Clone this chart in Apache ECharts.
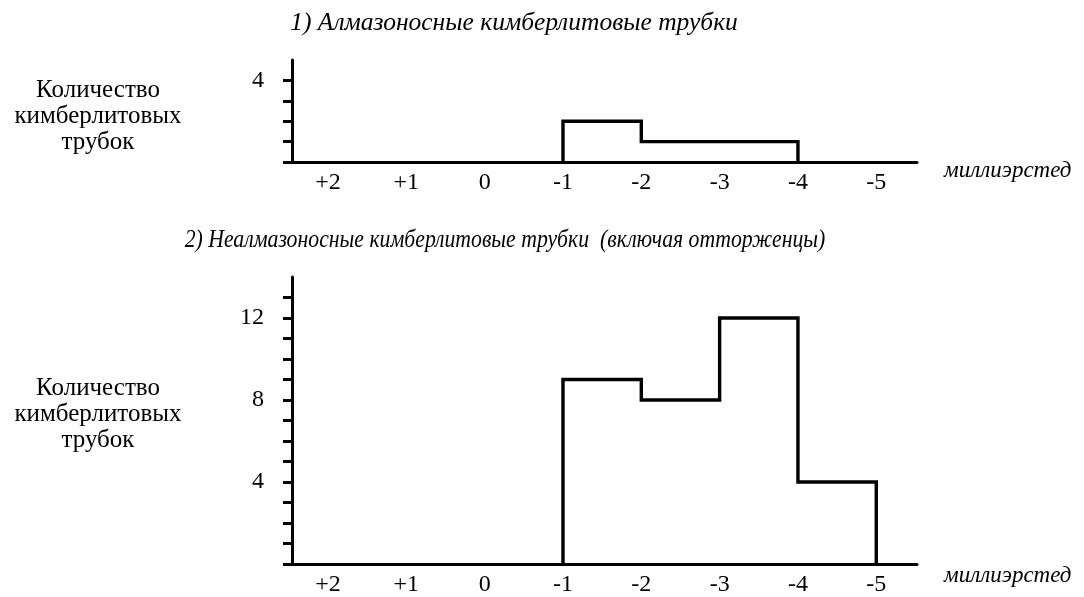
<!DOCTYPE html>
<html><head><meta charset="utf-8">
<script src="https://cdn.jsdelivr.net/npm/echarts@6/dist/echarts.min.js"></script>
<style>html,body{margin:0;padding:0;background:#fff}#c{width:1084px;height:597px}</style>
</head><body><div id="c"></div>
<script>
// Bin edges (milli-oersted) and counts per bin
const binEdges = [-1, -2, -3, -4, -5];
const diamondCounts = [2, 1, 1, 0];   // 1) diamond-bearing pipes
const barrenCounts = [9, 8, 12, 4];   // 2) non-diamond pipes
const xTickValues = [2, 1, 0, -1, -2, -3, -4, -5];
const yTicksTop = [0, 1, 2, 3, 4];
const yLabelsTop = [4];
const yTicksBottom = [0, 1, 2, 3, 4, 5, 6, 7, 8, 9, 10, 11, 12, 13];
const yLabelsBottom = [4, 8, 12];
const titleTop = '1) Алмазоносные кимберлитовые трубки';
const titleBottom = '2) Неалмазоносные кимберлитовые трубки  (включая отторженцы)';
const yName = 'Количество\nкимберлитовых\nтрубок';
const xName = 'миллиэрстед';

function stepPath(edges, counts) {
  let last = counts.length - 1;
  while (last >= 0 && counts[last] === 0) last--;
  const pts = [[edges[0], 0]];
  for (let i = 0; i <= last; i++) {
    pts.push([edges[i], counts[i]]);
    pts.push([edges[i + 1], counts[i]]);
  }
  pts.push([edges[last + 1], 0]);
  return pts;
}

const SERIF = '"Liberation Serif", "DejaVu Serif", serif';
const black = '#000';

function xAxisCfg(gi) {
  return {
    gridIndex: gi, type: 'value', inverse: true, min: -5.52, max: 2.46,
    axisLine: { show: true, onZero: false, lineStyle: { color: black, width: 3 } },
    axisTick: { show: false },
    splitLine: { show: false },
    axisLabel: {
      customValues: xTickValues, margin: 9, color: black,
      fontFamily: SERIF, fontSize: 24,
      formatter: v => (v > 0 ? '+' + v : String(v))
    }
  };
}
function yAxisCfg(gi, max, ticks, labels) {
  return {
    gridIndex: gi, type: 'value', min: 0, max: max,
    axisLine: { show: true, onZero: false, lineStyle: { color: black, width: 3 } },
    axisTick: { show: true, customValues: ticks, length: 9, lineStyle: { color: black, width: 3 } },
    splitLine: { show: false },
    axisLabel: {
      customValues: labels, margin: 28, color: black,
      fontFamily: SERIF, fontSize: 24
    }
  };
}
function textEl(text, x, y, size, italic, align, sx) {
  return {
    type: 'text', x: x, y: y, scaleX: sx || 1,
    style: {
      text: text, fill: black, fontFamily: SERIF, fontSize: size,
      fontStyle: italic ? 'italic' : 'normal',
      align: align || 'center', verticalAlign: 'middle', lineHeight: 26
    }
  };
}

const chart = echarts.init(document.getElementById('c'), null, { renderer: 'canvas' });
chart.setOption({
  animation: false,
  backgroundColor: '#fff',
  grid: [
    { left: 292, right: 167, top: 60, height: 102 },
    { left: 292, right: 167, top: 277, height: 287 }
  ],
  xAxis: [xAxisCfg(0), xAxisCfg(1)],
  yAxis: [yAxisCfg(0, 5, yTicksTop, yLabelsTop), yAxisCfg(1, 14, yTicksBottom, yLabelsBottom)],
  series: [
    {
      type: 'line', xAxisIndex: 0, yAxisIndex: 0, data: stepPath(binEdges, diamondCounts),
      showSymbol: false, symbol: 'none', lineStyle: { color: black, width: 3.4, join: 'miter' }, clip: false
    },
    {
      type: 'line', xAxisIndex: 1, yAxisIndex: 1, data: stepPath(binEdges, barrenCounts),
      showSymbol: false, symbol: 'none', lineStyle: { color: black, width: 3.4, join: 'miter' }, clip: false
    }
  ],
  graphic: [
    textEl(titleTop, 514, 23, 25.5, true),
    textEl(titleBottom, 505, 240, 25, true, 'center', 0.87),
    textEl(yName, 98, 116, 25, false),
    textEl(yName, 98, 414, 25, false),
    textEl(xName, 944, 171, 23, true, 'left'),
    textEl(xName, 944, 576, 23, true, 'left')
  ]
});
</script>
</body></html>
